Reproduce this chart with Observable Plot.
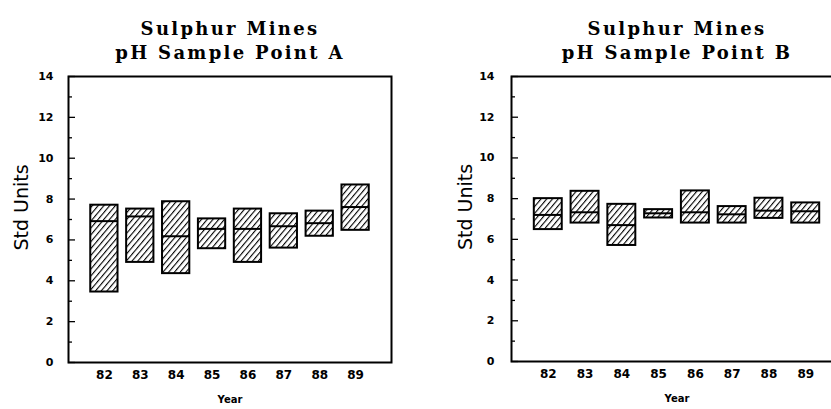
<!DOCTYPE html>
<html>
<head>
<meta charset="utf-8">
<script src="https://cdn.jsdelivr.net/npm/d3@7"></script>
<script src="https://cdn.jsdelivr.net/npm/@observablehq/plot@0.6"></script>
<style>
  html, body { margin: 0; padding: 0; background: #fff; }
  #wrap { position: relative; width: 831px; height: 409px; overflow: hidden; background: #fff; }
  #wrap svg { position: absolute; top: 0; }
</style>
</head>
<body>
<div id="wrap"></div>
<script>
// ---- data ----
const years = [82, 83, 84, 85, 86, 87, 88, 89];

const aMin = [3.45, 4.90, 4.35, 5.57, 4.90, 5.60, 6.18, 6.47];
const aMed = [6.92, 7.15, 6.18, 6.54, 6.54, 6.67, 6.82, 7.61];
const aMax = [7.70, 7.51, 7.87, 7.03, 7.51, 7.28, 7.41, 8.69];

const bMin = [6.48, 6.80, 5.70, 7.05, 6.80, 6.80, 7.03, 6.80];
const bMed = [7.20, 7.33, 6.70, 7.28, 7.33, 7.23, 7.41, 7.38];
const bMax = [8.00, 8.36, 7.72, 7.46, 8.38, 7.61, 8.02, 7.79];

const yMajor = [0, 2, 4, 6, 8, 10, 12, 14];
const yMinor = [1, 3, 5, 7, 9, 11, 13];

const titleLine1 = "Sulphur Mines";
const titleA = "pH Sample Point A";
const titleB = "pH Sample Point B";
const yLabel = "Std Units";
const xLabel = "Year";

function makePanel({mins, meds, maxs, title2, left, width, marginLeft, marginRight, bottomY, tickPad, titleDx, labelX, patId}) {
  const rows = years.map((year, i) => ({year, min: mins[i], median: meds[i], max: maxs[i]}));
  const height = 409;
  const marginTop = 76;
  const marginBottom = height - bottomY;
  const plotW = width - marginLeft - marginRight;
  const half = 0.38;
  const font = "DejaVu Sans, sans-serif";
  const titleStyle = {frameAnchor: "top", dx: titleDx, fontSize: 18, fontWeight: "bold", fontFamily: "DejaVu Serif, serif"};
  const svg = Plot.plot({
    width, height, marginLeft, marginRight, marginTop, marginBottom,
    style: {fontFamily: font, background: "white", color: "black"},
    x: {type: "linear", domain: [81, 90], axis: null},
    y: {domain: [0, 14], axis: null},
    marks: [
      Plot.rect(rows, {
        x1: d => d.year - half, x2: d => d.year + half,
        y1: "min", y2: "max",
        fill: `url(#${patId})`, stroke: "black", strokeWidth: 2
      }),
      Plot.ruleY(rows, {
        y: "median", x1: d => d.year - half, x2: d => d.year + half,
        stroke: "black", strokeWidth: 2
      }),
      Plot.tickY(yMajor, {y: d => d, insetRight: plotW - 7, stroke: "black", strokeWidth: 1.3}),
      Plot.tickY(yMinor, {y: d => d, insetRight: plotW - 4, stroke: "black", strokeWidth: 1.3}),
      Plot.frame({stroke: "black", strokeWidth: 2}),
      Plot.axisY(yMajor, {tickSize: 0, tickPadding: tickPad, fontSize: 11, fontWeight: "bold", label: null}),
      Plot.axisX(years, {tickSize: 0, tickPadding: 8, fontSize: 12, fontWeight: "bold", label: null}),
      Plot.text([yLabel], {frameAnchor: "left", dx: -(marginLeft - labelX), dy: -12, rotate: -90, fontSize: 19, fontFamily: font, textAnchor: "middle"}),
      Plot.text([xLabel], {frameAnchor: "bottom", dy: 40, fontSize: 10, fontWeight: "bold", fontFamily: font}),
      Plot.text([titleLine1], {...titleStyle, dy: -54}),
      Plot.text([title2], {...titleStyle, dy: -30})
    ]
  });
  const s = d3.select(svg);
  // widen title lettering
  s.selectAll("text")
    .filter(function () { const t = this.textContent; return t === titleLine1 || t === title2; })
    .attr("letter-spacing", 2.3);
  // hatch pattern
  const defs = s.insert("defs", ":first-child");
  const pat = defs.append("pattern")
    .attr("id", patId)
    .attr("patternUnits", "userSpaceOnUse")
    .attr("width", 4.4).attr("height", 4.4)
    .attr("patternTransform", "rotate(40)");
  pat.append("rect").attr("width", 4.4).attr("height", 4.4).attr("fill", "white");
  pat.append("line").attr("x1", 0).attr("y1", 0).attr("x2", 0).attr("y2", 4.4)
    .attr("stroke", "black").attr("stroke-width", 2.2);
  svg.style.left = left + "px";
  return svg;
}

const wrap = document.getElementById("wrap");
wrap.appendChild(makePanel({
  mins: aMin, meds: aMed, maxs: aMax, title2: titleA,
  left: 0, width: 420, marginLeft: 68, marginRight: 29, bottomY: 362, tickPad: 15, titleDx: 0, labelX: 21, patId: "hatchA"
}));
wrap.appendChild(makePanel({
  mins: bMin, meds: bMed, maxs: bMax, title2: titleB,
  left: 420, width: 440, marginLeft: 91, marginRight: 18, bottomY: 361, tickPad: 17, titleDx: 0, labelX: 45, patId: "hatchB"
}));
</script>
</body>
</html>
